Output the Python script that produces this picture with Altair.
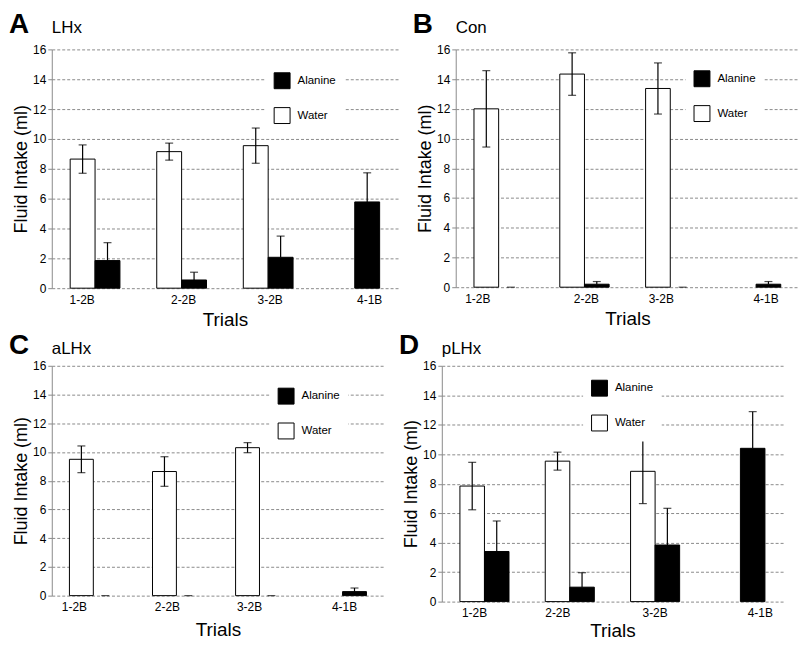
import altair as alt
import pandas as pd

trials = ["1-2B", "2-2B", "3-2B", "4-1B"]
series_names = ["Water", "Alanine"]
letters = ["A", "B", "C", "D"]
groups = ["LHx", "Con", "aLHx", "pLHx"]

# values (ml) and SEM; None = no bar
lhx_water = [8.65, 9.15, 9.55, None]
lhx_water_err = [0.95, 0.57, 1.18, None]
lhx_alanine = [1.85, 0.55, 2.07, 5.78]
lhx_alanine_err = [1.20, 0.52, 1.42, 1.95]

con_water = [12.0, 14.34, 13.37, None]
con_water_err = [2.57, 1.43, 1.72, None]
con_alanine = [0.0, 0.2, 0.0, 0.2]
con_alanine_err = [0.0, 0.18, 0.0, 0.18]

alhx_water = [9.49, 8.64, 10.3, None]
alhx_water_err = [0.93, 1.03, 0.35, None]
alhx_alanine = [0.0, 0.0, 0.0, 0.28]
alhx_alanine_err = [0.0, 0.0, 0.0, 0.25]

plhx_water = [7.84, 9.53, 8.84, None]
plhx_water_err = [1.61, 0.61, 2.19, None]
plhx_alanine = [3.40, 0.98, 3.84, 10.4]
plhx_alanine_err = [2.07, 0.98, 2.49, 2.49]

y_ticks = [0, 2, 4, 6, 8, 10, 12, 14, 16]

panel_data = {
    "LHx": (lhx_water, lhx_water_err, lhx_alanine, lhx_alanine_err),
    "Con": (con_water, con_water_err, con_alanine, con_alanine_err),
    "aLHx": (alhx_water, alhx_water_err, alhx_alanine, alhx_alanine_err),
    "pLHx": (plhx_water, plhx_water_err, plhx_alanine, plhx_alanine_err),
}

FONT = "Liberation Sans"


def make_df(name):
    w, we, a, ae = panel_data[name]
    rows = []
    for i, t in enumerate(trials):
        if w[i] is not None:
            rows.append({"trial": t, "series": "Water", "value": w[i],
                         "lo": w[i] - we[i], "hi": w[i] + we[i]})
        if a[i] is not None:
            rows.append({"trial": t, "series": "Alanine", "value": a[i],
                         "lo": a[i], "hi": a[i] + ae[i]})
    return pd.DataFrame(rows)


def panel(idx, width, height, leg_x, leg_y, label_offsets, letter_y, x_title_pad):
    name = groups[idx]
    df = make_df(name)
    offs = "[" + ",".join(str(o) for o in label_offsets) + "]"
    expr = offs + "[indexof(['1-2B','2-2B','3-2B','4-1B'], datum.value)]"
    x = alt.X("trial:N", sort=trials,
              scale=alt.Scale(domain=trials, paddingInner=0.425, paddingOuter=0.2125),
              axis=alt.Axis(title="Trials", domain=False, ticks=False, labelAngle=0,
                            labelFontSize=12, labelPadding=6, titleFontSize=19,
                            titlePadding=x_title_pad, labelOffset=alt.ExprRef(expr=expr)))
    xo = alt.XOffset("series:N", scale=alt.Scale(domain=series_names, paddingInner=0, paddingOuter=0))
    y_scale = alt.Scale(domain=[0, 16], nice=False)
    y_axis = alt.Axis(title="Fluid Intake (ml)", values=y_ticks,
                      grid=True, gridDash=[3, 2], gridColor="#8a8a8a", gridWidth=1,
                      domainColor="#8a8a8a", tickColor="#8a8a8a", tickSize=4,
                      labelFontSize=12, labelPadding=2, titleFontSize=18,
                      titlePadding=2)
    base = alt.Chart(df)
    bars = base.mark_bar(stroke="black", strokeWidth=1).encode(
        x=x, xOffset=xo,
        y=alt.Y("value:Q", scale=y_scale, axis=y_axis, title="Fluid Intake (ml)"),
        fill=alt.Fill("series:N",
                      scale=alt.Scale(domain=["Alanine", "Water"], range=["black", "white"]),
                      legend=alt.Legend(title=None, orient="none", legendX=leg_x, legendY=leg_y,
                                        symbolType="square", symbolSize=256,
                                        symbolStrokeColor="black", symbolStrokeWidth=1,
                                        labelFontSize=11.5, labelFont=FONT, labelOffset=7,
                                        rowPadding=14, fillColor="white", padding=8)),
    ).transform_filter("datum.value > 0")
    rule = base.mark_rule(color="black", strokeWidth=1.2).encode(
        x=x, xOffset=xo,
        y=alt.Y("lo:Q", scale=y_scale, axis=y_axis, title="Fluid Intake (ml)"), y2="hi:Q")
    cap_hi = base.mark_tick(color="black", size=8, thickness=1.2).encode(
        x=x, xOffset=xo,
        y=alt.Y("hi:Q", scale=y_scale, axis=y_axis, title="Fluid Intake (ml)"))
    cap_lo = base.mark_tick(color="black", size=8, thickness=1.2).encode(
        x=x, xOffset=xo,
        y=alt.Y("lo:Q", scale=y_scale, axis=y_axis, title="Fluid Intake (ml)")
    ).transform_filter("datum.series == 'Water'")
    lab = alt.Chart(pd.DataFrame({"t": [letters[idx]], "n": [name]}))
    letter = lab.mark_text(
        font=FONT, fontSize=28, fontWeight="bold", align="center", baseline="alphabetic",
        color="black").encode(text="t:N", x=alt.value(-33), y=alt.value(letter_y))
    title = lab.mark_text(
        font=FONT, fontSize=17, align="left", baseline="alphabetic",
        color="black").encode(text="n:N", x=alt.value(0), y=alt.value(letter_y))
    return alt.layer(bars, rule, cap_hi, cap_lo, letter, title).properties(
        width=width, height=height)


pA = panel(0, 348, 240, 215, 15, [-13, 2, 2, 15], -16, 6)
pB = panel(1, 345, 239, 231, 13, [-21, 2, -9, 10], -16, 6)
pC = panel(2, 334, 231, 219, 14, [-19, -9, -10, 2], -12, 8)
pD = panel(3, 343, 237, 142, 6, [-10, -12, 0, 20], -12, 3)


def ind(c):
    return c.resolve_scale(x="independent", y="independent", fill="independent",
                           xOffset="independent").resolve_legend(fill="independent")


row1 = ind(alt.hconcat(pA, pB, spacing=14))
row2 = ind(alt.hconcat(pC, pD, spacing=14))
chart = ind(alt.vconcat(row1, row2, spacing=2)).properties(
    padding={"top": 2, "left": 0, "right": 0, "bottom": 0}).configure_view(
    stroke=None).configure_axis(labelFont=FONT, titleFont=FONT, labelColor="black",
                                titleColor="black", titleFontWeight="normal")

chart.save("out.html", embed_options={"renderer": "svg", "actions": False})
